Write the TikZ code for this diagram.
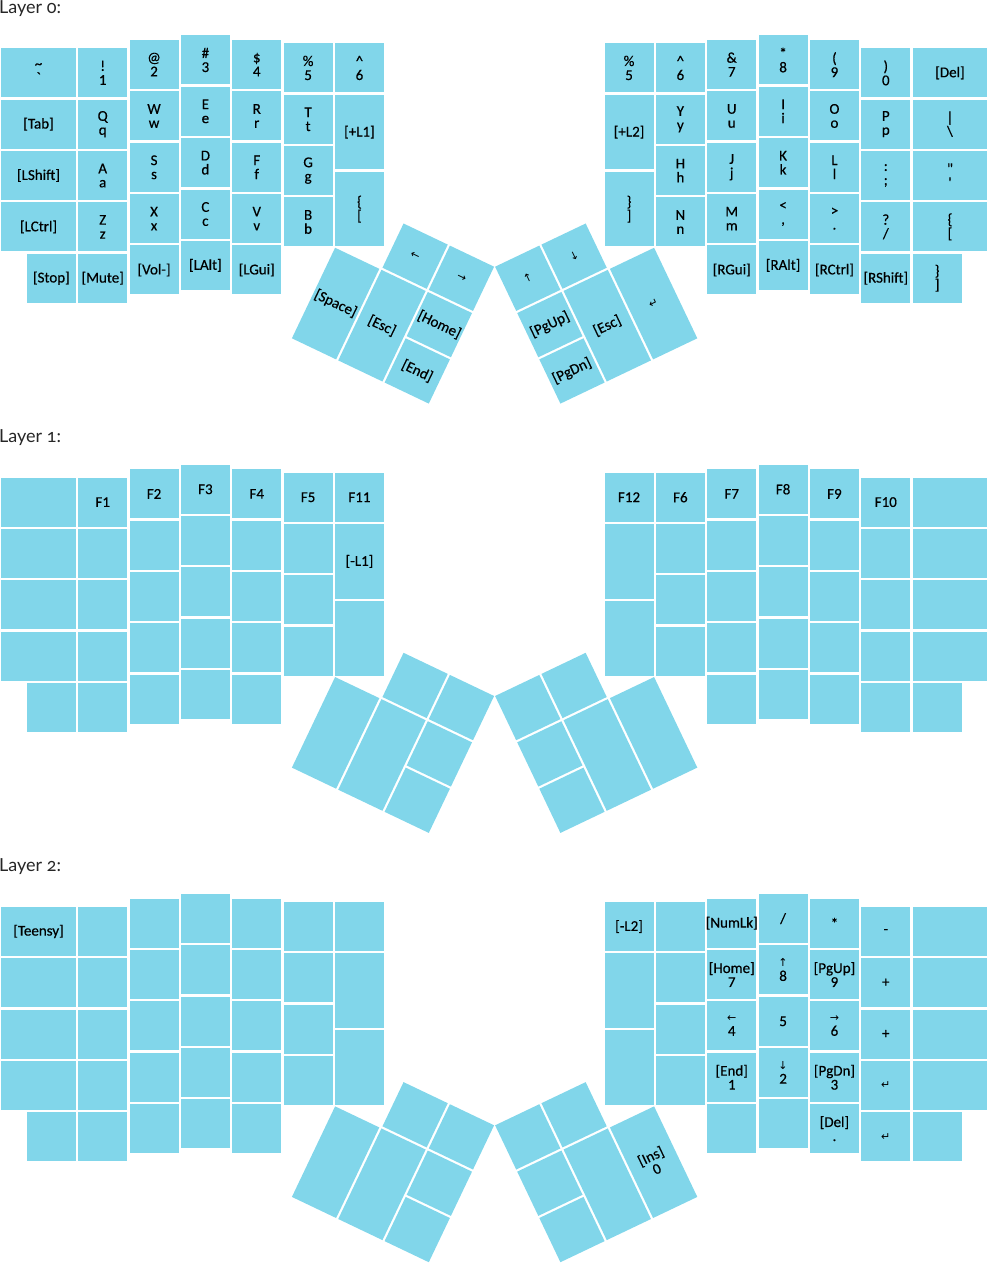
\documentclass[tikz,border=0pt]{standalone}
\usepackage{fontspec}
\setmainfont{Carlito}
\newfontfamily\keyfamily{Carlito}[FakeBold=0.4]
\newfontfamily\arrowfont{DejaVu Sans}
\newfontfamily\titlefont[Numbers=OldStyle]{Lato}
\newcommand{\keyfont}{\keyfamily\fontsize{15}{14}\selectfont}
\newcommand{\keyarrow}[1]{{\arrowfont\fontsize{11}{11}\selectfont #1}}
\definecolor{keyblue}{RGB}{129,214,234}

\begin{document}
\begin{tikzpicture}[
        x=1pt,
        y=-1pt,
        keycap/.style={
            rectangle,
            fill=keyblue,
            inner sep=0pt,
            minimum width=49pt,
            minimum height=49pt
        },
        widecap/.style={minimum width=74.7pt},
        tallcap/.style={minimum height=74.7pt},
        longcap/.style={minimum height=100.35pt},
        legendtext/.style={
            align=center,
            inner sep=0pt,
            font=\keyfont
        },
        layertitle/.style={
            anchor=base west,
            inner sep=0pt,
            text=black!85,
            font=\titlefont\fontsize{18}{20}\selectfont
        }
    ]

        \useasboundingbox (0,0) rectangle (988,1263);

        \foreach \lay in {0,1,2} {
            \begin{scope}[shift={(0,34.3+429.3*\lay)}, x=51.35pt, y=-51.35pt]
                % left hand
                \foreach \row in {0,...,3}
                    \node[keycap, widecap] (lh\lay c0r\row) at (0.75,0.75+\row) {};
                \node[keycap] (lh\lay c0r4) at (1,4.75) {};
                \foreach \col/\cx/\dy/\nr in {1/2/0.25/4, 2/3/0.09/4, 3/4/0/4, 4/5/0.09/4, 5/6/0.155/3}
                    \foreach \row in {0,...,\nr}
                        \node[keycap] (lh\lay c\col r\row) at (\cx,\dy+\row+0.5) {};
                \node[keycap] (lh\lay c6r0) at (7,0.655) {};
                \node[keycap, tallcap] (lh\lay c6r1) at (7,1.905) {};
                \node[keycap, tallcap] (lh\lay c6r2) at (7,3.405) {};
                % right hand
                \node[keycap] (rh\lay c0r0) at (12.25,0.655) {};
                \node[keycap, tallcap] (rh\lay c0r1) at (12.25,1.905) {};
                \node[keycap, tallcap] (rh\lay c0r2) at (12.25,3.405) {};
                \foreach \col/\cx/\dy/\nr in {1/13.25/0.155/3, 2/14.25/0.09/4, 3/15.25/0/4, 4/16.25/0.09/4, 5/17.25/0.25/4}
                    \foreach \row in {0,...,\nr}
                        \node[keycap] (rh\lay c\col r\row) at (\cx,\dy+\row+0.5) {};
                \foreach \row in {0,...,3}
                    \node[keycap, widecap] (rh\lay c6r\row) at (18.5,0.75+\row) {};
                \node[keycap] (rh\lay c6r4) at (18.25,4.75) {};
            \end{scope}
            % thumb clusters
            \begin{scope}[shift={(393,302.5+429.3*\lay)}, rotate=-25.5, transform shape, x=51.35pt, y=-51.35pt]
                \node[keycap] (lt\lay c1r0) at (0,-1) {};
                \node[keycap] (lt\lay c2r0) at (1,-1) {};
                \node[keycap, longcap] (lt\lay c0r1) at (-1,0.5) {};
                \node[keycap, longcap] (lt\lay c1r1) at (0,0.5) {};
                \node[keycap] (lt\lay c2r1) at (1,0) {};
                \node[keycap] (lt\lay c2r2) at (1,1) {};
            \end{scope}
            \begin{scope}[shift={(596.2,302.5+429.3*\lay)}, rotate=25.5, transform shape, x=51.35pt, y=-51.35pt]
                \node[keycap] (rt\lay c1r0) at (0,-1) {};
                \node[keycap] (rt\lay c2r0) at (-1,-1) {};
                \node[keycap, longcap] (rt\lay c0r1) at (1,0.5) {};
                \node[keycap, longcap] (rt\lay c1r1) at (0,0.5) {};
                \node[keycap] (rt\lay c2r1) at (-1,0) {};
                \node[keycap] (rt\lay c2r2) at (-1,1) {};
            \end{scope}
        }

        \node[layertitle] (title0) at (-1,13.3) {Layer 0:};
        \node[layertitle] (title1) at (-1,442.6) {Layer 1:};
        \node[layertitle] (title2) at (-1,871.9) {Layer 2:};

        % layer 0
        \node[legendtext] (tlh0c0r0) at (lh0c0r0) {\textasciitilde\\\textasciigrave};
        \node[legendtext] (tlh0c0r1) at (lh0c0r1) {[Tab]};
        \node[legendtext] (tlh0c0r2) at (lh0c0r2) {[LShift]};
        \node[legendtext] (tlh0c0r3) at (lh0c0r3) {[LCtrl]};
        \node[legendtext] (tlh0c0r4) at (lh0c0r4) {[Stop]};
        \node[legendtext] (tlh0c1r0) at (lh0c1r0) {!\\1};
        \node[legendtext] (tlh0c1r1) at (lh0c1r1) {Q\\q};
        \node[legendtext] (tlh0c1r2) at (lh0c1r2) {A\\a};
        \node[legendtext] (tlh0c1r3) at (lh0c1r3) {Z\\z};
        \node[legendtext] (tlh0c1r4) at (lh0c1r4) {[Mute]};
        \node[legendtext] (tlh0c2r0) at (lh0c2r0) {@\\2};
        \node[legendtext] (tlh0c2r1) at (lh0c2r1) {W\\w};
        \node[legendtext] (tlh0c2r2) at (lh0c2r2) {S\\s};
        \node[legendtext] (tlh0c2r3) at (lh0c2r3) {X\\x};
        \node[legendtext] (tlh0c2r4) at (lh0c2r4) {[Vol-]};
        \node[legendtext] (tlh0c3r0) at (lh0c3r0) {\#\\3};
        \node[legendtext] (tlh0c3r1) at (lh0c3r1) {E\\e};
        \node[legendtext] (tlh0c3r2) at (lh0c3r2) {D\\d};
        \node[legendtext] (tlh0c3r3) at (lh0c3r3) {C\\c};
        \node[legendtext] (tlh0c3r4) at (lh0c3r4) {[LAlt]};
        \node[legendtext] (tlh0c4r0) at (lh0c4r0) {\$\\4};
        \node[legendtext] (tlh0c4r1) at (lh0c4r1) {R\\r};
        \node[legendtext] (tlh0c4r2) at (lh0c4r2) {F\\f};
        \node[legendtext] (tlh0c4r3) at (lh0c4r3) {V\\v};
        \node[legendtext] (tlh0c4r4) at (lh0c4r4) {[LGui]};
        \node[legendtext] (tlh0c5r0) at (lh0c5r0) {\%\\5};
        \node[legendtext] (tlh0c5r1) at (lh0c5r1) {T\\t};
        \node[legendtext] (tlh0c5r2) at (lh0c5r2) {G\\g};
        \node[legendtext] (tlh0c5r3) at (lh0c5r3) {B\\b};
        \node[legendtext] (tlh0c6r0) at (lh0c6r0) {\textasciicircum\\6};
        \node[legendtext] (tlh0c6r1) at (lh0c6r1) {[+L1]};
        \node[legendtext] (tlh0c6r2) at (lh0c6r2) {\{\\{}[};
        \node[legendtext] (trh0c0r0) at (rh0c0r0) {\%\\5};
        \node[legendtext] (trh0c0r1) at (rh0c0r1) {[+L2]};
        \node[legendtext] (trh0c0r2) at (rh0c0r2) {\}\\]};
        \node[legendtext] (trh0c1r0) at (rh0c1r0) {\textasciicircum\\6};
        \node[legendtext] (trh0c1r1) at (rh0c1r1) {Y\\y};
        \node[legendtext] (trh0c1r2) at (rh0c1r2) {H\\h};
        \node[legendtext] (trh0c1r3) at (rh0c1r3) {N\\n};
        \node[legendtext] (trh0c2r0) at (rh0c2r0) {\&\\7};
        \node[legendtext] (trh0c2r1) at (rh0c2r1) {U\\u};
        \node[legendtext] (trh0c2r2) at (rh0c2r2) {J\\j};
        \node[legendtext] (trh0c2r3) at (rh0c2r3) {M\\m};
        \node[legendtext] (trh0c2r4) at (rh0c2r4) {[RGui]};
        \node[legendtext] (trh0c3r0) at (rh0c3r0) {*\\8};
        \node[legendtext] (trh0c3r1) at (rh0c3r1) {I\\i};
        \node[legendtext] (trh0c3r2) at (rh0c3r2) {K\\k};
        \node[legendtext] (trh0c3r3) at (rh0c3r3) {<\\,};
        \node[legendtext] (trh0c3r4) at (rh0c3r4) {[RAlt]};
        \node[legendtext] (trh0c4r0) at (rh0c4r0) {(\\9};
        \node[legendtext] (trh0c4r1) at (rh0c4r1) {O\\o};
        \node[legendtext] (trh0c4r2) at (rh0c4r2) {L\\l};
        \node[legendtext] (trh0c4r3) at (rh0c4r3) {>\\.};
        \node[legendtext] (trh0c4r4) at (rh0c4r4) {[RCtrl]};
        \node[legendtext] (trh0c5r0) at (rh0c5r0) {)\\0};
        \node[legendtext] (trh0c5r1) at (rh0c5r1) {P\\p};
        \node[legendtext] (trh0c5r2) at (rh0c5r2) {:\\;};
        \node[legendtext] (trh0c5r3) at (rh0c5r3) {?\\/};
        \node[legendtext] (trh0c5r4) at (rh0c5r4) {[RShift]};
        \node[legendtext] (trh0c6r0) at (rh0c6r0) {[Del]};
        \node[legendtext] (trh0c6r1) at (rh0c6r1) {\textbar\\\textbackslash};
        \node[legendtext] (trh0c6r2) at (rh0c6r2) {\textquotedbl\\\textquotesingle};
        \node[legendtext] (trh0c6r3) at (rh0c6r3) {\{\\{}[};
        \node[legendtext] (trh0c6r4) at (rh0c6r4) {\}\\]};
        \node[legendtext, rotate=-25.5] (tlt0c1r0) at (lt0c1r0) {\keyarrow{←}};
        \node[legendtext, rotate=-25.5] (tlt0c2r0) at (lt0c2r0) {\keyarrow{→}};
        \node[legendtext, rotate=-25.5] (tlt0c0r1) at (lt0c0r1) {[Space]};
        \node[legendtext, rotate=-25.5] (tlt0c1r1) at (lt0c1r1) {[Esc]};
        \node[legendtext, rotate=-25.5] (tlt0c2r1) at (lt0c2r1) {[Home]};
        \node[legendtext, rotate=-25.5] (tlt0c2r2) at (lt0c2r2) {[End]};
        \node[legendtext, rotate=25.5] (trt0c1r0) at (rt0c1r0) {\keyarrow{↓}};
        \node[legendtext, rotate=25.5] (trt0c2r0) at (rt0c2r0) {\keyarrow{↑}};
        \node[legendtext, rotate=25.5] (trt0c0r1) at (rt0c0r1) {\keyarrow{↵}};
        \node[legendtext, rotate=25.5] (trt0c1r1) at (rt0c1r1) {[Esc]};
        \node[legendtext, rotate=25.5] (trt0c2r1) at (rt0c2r1) {[PgUp]};
        \node[legendtext, rotate=25.5] (trt0c2r2) at (rt0c2r2) {[PgDn]};

        % layer 1
        \node[legendtext] (tlh1c1r0) at (lh1c1r0) {F1};
        \node[legendtext] (tlh1c2r0) at (lh1c2r0) {F2};
        \node[legendtext] (tlh1c3r0) at (lh1c3r0) {F3};
        \node[legendtext] (tlh1c4r0) at (lh1c4r0) {F4};
        \node[legendtext] (tlh1c5r0) at (lh1c5r0) {F5};
        \node[legendtext] (tlh1c6r0) at (lh1c6r0) {F11};
        \node[legendtext] (tlh1c6r1) at (lh1c6r1) {[-L1]};
        \node[legendtext] (trh1c0r0) at (rh1c0r0) {F12};
        \node[legendtext] (trh1c1r0) at (rh1c1r0) {F6};
        \node[legendtext] (trh1c2r0) at (rh1c2r0) {F7};
        \node[legendtext] (trh1c3r0) at (rh1c3r0) {F8};
        \node[legendtext] (trh1c4r0) at (rh1c4r0) {F9};
        \node[legendtext] (trh1c5r0) at (rh1c5r0) {F10};

        % layer 2
        \node[legendtext] (tlh2c0r0) at (lh2c0r0) {[Teensy]};
        \node[legendtext] (trh2c0r0) at (rh2c0r0) {[-L2]};
        \node[legendtext] (trh2c2r0) at (rh2c2r0) {\makebox[48pt]{[NumLk]}};
        \node[legendtext] (trh2c2r1) at (rh2c2r1) {[Home]\\7};
        \node[legendtext] (trh2c2r2) at (rh2c2r2) {\keyarrow{←}\\4};
        \node[legendtext] (trh2c2r3) at (rh2c2r3) {[End]\\1};
        \node[legendtext] (trh2c3r0) at (rh2c3r0) {/};
        \node[legendtext] (trh2c3r1) at (rh2c3r1) {\keyarrow{↑}\\8};
        \node[legendtext] (trh2c3r2) at (rh2c3r2) {5};
        \node[legendtext] (trh2c3r3) at (rh2c3r3) {\keyarrow{↓}\\2};
        \node[legendtext] (trh2c4r0) at (rh2c4r0) {*};
        \node[legendtext] (trh2c4r1) at (rh2c4r1) {[PgUp]\\9};
        \node[legendtext] (trh2c4r2) at (rh2c4r2) {\keyarrow{→}\\6};
        \node[legendtext] (trh2c4r3) at (rh2c4r3) {[PgDn]\\3};
        \node[legendtext] (trh2c4r4) at (rh2c4r4) {[Del]\\.};
        \node[legendtext] (trh2c5r0) at (rh2c5r0) {-};
        \node[legendtext] (trh2c5r1) at (rh2c5r1) {+};
        \node[legendtext] (trh2c5r2) at (rh2c5r2) {+};
        \node[legendtext] (trh2c5r3) at (rh2c5r3) {\keyarrow{↵}};
        \node[legendtext] (trh2c5r4) at (rh2c5r4) {\keyarrow{↵}};
        \node[legendtext, rotate=25.5] (trt2c0r1) at (rt2c0r1) {[Ins]\\0};

    \end{tikzpicture}
\end{document}
